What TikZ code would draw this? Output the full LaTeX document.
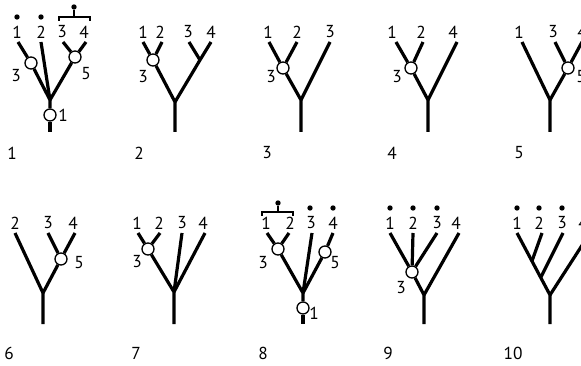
\documentclass[tikz,border=0pt]{standalone}
\usepackage{fontspec}
\setmainfont{PT Sans}

\tikzset{
  branch/.style={line width=2.4pt, line join=round},
  vtx/.style={circle, draw, line width=1pt, fill=white, minimum size=9pt, inner sep=0pt},
  lbl/.style={font=\fontsize{13}{15}\selectfont, inner sep=0pt},
  dotnode/.style={circle, fill, minimum size=4pt, inner sep=0pt},
  brk/.style={line width=1pt},
}

\begin{document}
\begin{tikzpicture}[x=0.75pt, y=-0.75pt]
  \useasboundingbox (0,0) rectangle (581,366);
  \clip (0,0) rectangle (581,366);

  % Tree 1
  \coordinate (a1) at (18,42);
  \coordinate (a2) at (41,42);
  \coordinate (a3) at (63,42);
  \coordinate (a4) at (86,42);
  \node[vtx] (a13) at (31,63) {};
  \node[vtx] (a15) at (75,57) {};
  \coordinate (aj) at (50,100);
  \node[vtx] (ar) at (50,115) {};
  \coordinate (ab) at (50,132);
  \draw[branch] (a1) -- (a13);
  \draw[branch] (a3) -- (a15);
  \draw[branch] (a4) -- (a15);
  \draw[branch] (a13) -- (aj) -- (ar);
  \draw[branch] (a2) -- (aj);
  \draw[branch] (a15) -- (aj);
  \draw[branch] (ar) -- (ab);
  \node[dotnode] (ad1) at (17,17) {};
  \node[dotnode] (ad2) at (41,17) {};
  \coordinate (abl) at (59,21);
  \coordinate (abr) at (90,21);
  \coordinate (abm) at (74,17);
  \node[dotnode] (ad34) at (74,7) {};
  \draw[brk] (abl) |- (abm) -| (abr);
  \draw[brk] (abm) -- (ad34);
  \node[lbl] (al1) at (17,32) {1};
  \node[lbl] (al2) at (41,32) {2};
  \node[lbl] (al3) at (62,32) {3};
  \node[lbl] (al4) at (84,32) {4};
  \node[lbl] (an3) at (16,76) {3};
  \node[lbl] (an5) at (86,74) {5};
  \node[lbl] (an1) at (63,115) {1};
  \node[lbl] (acap) at (12,153) {1};

  % Tree 2
  \coordinate (b1) at (143,42);
  \coordinate (b2) at (162,42);
  \coordinate (b3) at (189,42);
  \coordinate (b4) at (211,42);
  \node[vtx] (b12) at (153,60) {};
  \coordinate (bs) at (200,60);
  \coordinate (bj) at (175,102);
  \coordinate (bb) at (175,132);
  \draw[branch] (b1) -- (b12);
  \draw[branch] (b2) -- (b12);
  \draw[branch] (b3) -- (bs);
  \draw[branch] (b4) -- (bs) -- (bj);
  \draw[branch] (b12) -- (bj) -- (bb);
  \node[lbl] (bl1) at (143,32) {1};
  \node[lbl] (bl2) at (160,32) {2};
  \node[lbl] (bl3) at (188,32) {3};
  \node[lbl] (bl4) at (211,32) {4};
  \node[lbl] (bn3) at (143,77) {3};
  \node[lbl] (bcap) at (139,153) {2};

  % Tree 3
  \coordinate (c1) at (269,42);
  \coordinate (c2) at (297,42);
  \coordinate (c3) at (330,42);
  \node[vtx] (c12) at (283,68) {};
  \coordinate (cj) at (301,100);
  \coordinate (cb) at (301,132);
  \draw[branch] (c1) -- (c12);
  \draw[branch] (c2) -- (c12);
  \draw[branch] (c12) -- (cj) -- (cb);
  \draw[branch] (c3) -- (cj);
  \node[lbl] (cl1) at (268,32) {1};
  \node[lbl] (cl2) at (297,32) {2};
  \node[lbl] (cl3) at (330,32) {3};
  \node[lbl] (cn3) at (271,77) {3};
  \node[lbl] (ccap) at (267,153) {3};

  % Tree 4
  \coordinate (d1) at (396,42);
  \coordinate (d2) at (423,42);
  \coordinate (d4) at (457,42);
  \node[vtx] (d12) at (411,68) {};
  \coordinate (dj) at (428,100);
  \coordinate (db) at (428,132);
  \draw[branch] (d1) -- (d12);
  \draw[branch] (d2) -- (d12);
  \draw[branch] (d12) -- (dj) -- (db);
  \draw[branch] (d4) -- (dj);
  \node[lbl] (dl1) at (392,32) {1};
  \node[lbl] (dl2) at (421,32) {2};
  \node[lbl] (dl4) at (453,32) {4};
  \node[lbl] (dn3) at (397,77) {3};
  \node[lbl] (dcap) at (392,153) {4};

  % Tree 5
  \coordinate (e1) at (522,42);
  \coordinate (e3) at (555,42);
  \coordinate (e4) at (582,42);
  \node[vtx] (e34) at (568,68) {};
  \coordinate (ej) at (550,100);
  \coordinate (eb) at (550,132);
  \draw[branch] (e3) -- (e34);
  \draw[branch] (e4) -- (e34);
  \draw[branch] (e1) -- (ej) -- (eb);
  \draw[branch] (e34) -- (ej);
  \node[lbl] (el1) at (519,32) {1};
  \node[lbl] (el3) at (553,32) {3};
  \node[lbl] (el4) at (582,32) {4};
  \node[lbl] (en5) at (581,77) {5};
  \node[lbl] (ecap) at (519,153) {5};

  % Tree 6
  \coordinate (f2) at (15,233);
  \coordinate (f3) at (48,233);
  \coordinate (f4) at (75,233);
  \node[vtx] (f34) at (61,259) {};
  \coordinate (fj) at (43,293);
  \coordinate (fb) at (43,324);
  \draw[branch] (f3) -- (f34);
  \draw[branch] (f4) -- (f34);
  \draw[branch] (f2) -- (fj) -- (fb);
  \draw[branch] (f34) -- (fj);
  \node[lbl] (fl2) at (15,223) {2};
  \node[lbl] (fl3) at (48,223) {3};
  \node[lbl] (fl4) at (73,223) {4};
  \node[lbl] (fn5) at (79,263) {5};
  \node[lbl] (fcap) at (9,353) {6};

  % Tree 7
  \coordinate (g1) at (138,233);
  \coordinate (g2) at (160,233);
  \coordinate (g3) at (182,233);
  \coordinate (g4) at (205,233);
  \node[vtx] (g12) at (148,249) {};
  \coordinate (gj) at (174,292);
  \coordinate (gb) at (174,324);
  \draw[branch] (g1) -- (g12);
  \draw[branch] (g2) -- (g12);
  \draw[branch] (g12) -- (gj) -- (gb);
  \draw[branch] (g3) -- (gj);
  \draw[branch] (g4) -- (gj);
  \node[lbl] (gl1) at (137,223) {1};
  \node[lbl] (gl2) at (159,223) {2};
  \node[lbl] (gl3) at (182,223) {3};
  \node[lbl] (gl4) at (203,223) {4};
  \node[lbl] (gn3) at (137,262) {3};
  \node[lbl] (gcap) at (136,353) {7};

  % Tree 8
  \coordinate (h1) at (267,233);
  \coordinate (h2) at (289,233);
  \coordinate (h3) at (312,233);
  \coordinate (h4) at (333,233);
  \node[vtx] (h12) at (278,249) {};
  \node[vtx] (h45) at (325,252) {};
  \coordinate (hj) at (303,293);
  \node[vtx] (hr) at (303,308) {};
  \coordinate (hb) at (303,324);
  \draw[branch] (h1) -- (h12);
  \draw[branch] (h2) -- (h12);
  \draw[branch] (h4) -- (h45);
  \draw[branch] (h12) -- (hj) -- (hr);
  \draw[branch] (h3) -- (hj);
  \draw[branch] (h45) -- (hj);
  \draw[branch] (hr) -- (hb);
  \coordinate (hbl) at (262,216);
  \coordinate (hbr) at (293,216);
  \coordinate (hbm) at (278,212);
  \node[dotnode] (hd12) at (278,203) {};
  \draw[brk] (hbl) |- (hbm) -| (hbr);
  \draw[brk] (hbm) -- (hd12);
  \node[dotnode] (hd3) at (310,208) {};
  \node[dotnode] (hd4) at (333,208) {};
  \node[lbl] (hl1) at (266,223) {1};
  \node[lbl] (hl2) at (290,223) {2};
  \node[lbl] (hl3) at (311,223) {3};
  \node[lbl] (hl4) at (333,223) {4};
  \node[lbl] (hn3) at (263,263) {3};
  \node[lbl] (hn5) at (335,263) {5};
  \node[lbl] (hn1) at (314,313) {1};
  \node[lbl] (hcap) at (263,353) {8};

  % Tree 9
  \coordinate (i1) at (390,233);
  \coordinate (i2) at (413,233);
  \coordinate (i3) at (437,233);
  \coordinate (i4) at (459,233);
  \node[vtx] (i123) at (412,272) {};
  \coordinate (ij) at (424,295);
  \coordinate (ib) at (424,324);
  \draw[branch] (i1) -- (i123);
  \draw[branch] (i2) -- (i123);
  \draw[branch] (i3) -- (i123);
  \draw[branch] (i123) -- (ij) -- (ib);
  \draw[branch] (i4) -- (ij);
  \node[dotnode] (id1) at (390,208) {};
  \node[dotnode] (id2) at (413,208) {};
  \node[dotnode] (id3) at (437,208) {};
  \node[lbl] (il1) at (390,223) {1};
  \node[lbl] (il2) at (413,223) {2};
  \node[lbl] (il3) at (437,223) {3};
  \node[lbl] (il4) at (456,223) {4};
  \node[lbl] (in3) at (401,288) {3};
  \node[lbl] (icap) at (388,353) {9};

  % Tree 10
  \coordinate (k1) at (517,233);
  \coordinate (k2) at (542,233);
  \coordinate (k3) at (563,233);
  \coordinate (k4) at (590,233);
  \coordinate (k12) at (532,261);
  \coordinate (k123) at (541,277);
  \coordinate (kj) at (550,295);
  \coordinate (kb) at (550,324);
  \draw[branch] (k1) -- (kj) -- (kb);
  \draw[branch] (k2) -- (k12);
  \draw[branch] (k3) -- (k123);
  \draw[branch] (k4) -- (kj);
  \node[dotnode] (kd1) at (517,208) {};
  \node[dotnode] (kd2) at (539,208) {};
  \node[dotnode] (kd3) at (562,208) {};
  \node[lbl] (kl1) at (517,223) {1};
  \node[lbl] (kl2) at (539,223) {2};
  \node[lbl] (kl3) at (562,223) {3};
  \node[lbl] (kl4) at (583,223) {4};
  \node[lbl] (kcap) at (513,353) {10};
\end{tikzpicture}
\end{document}
